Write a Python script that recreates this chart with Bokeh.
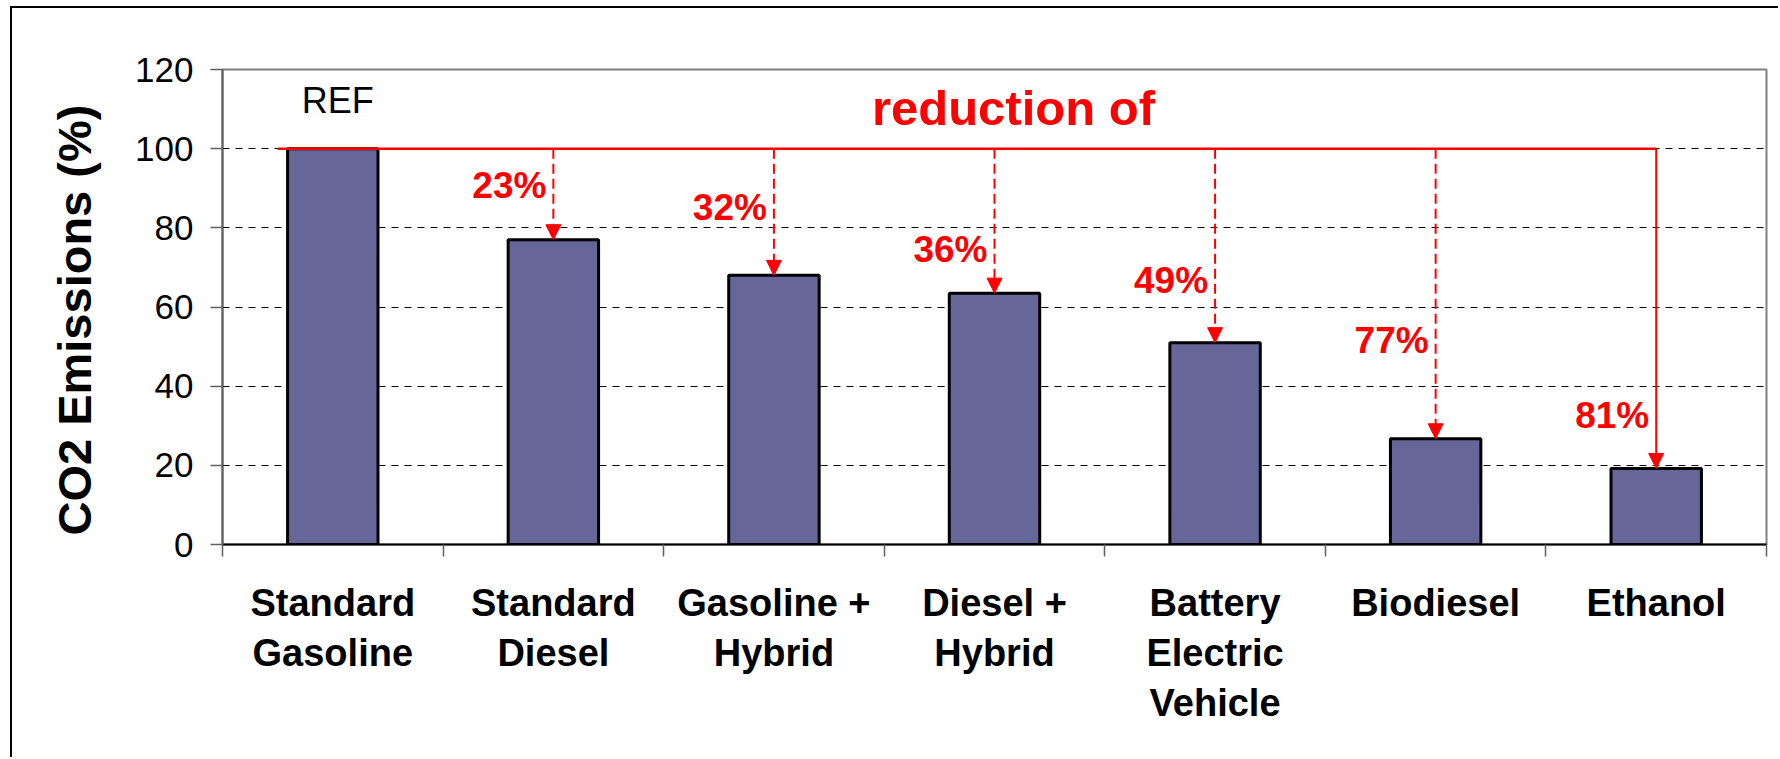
from bokeh.plotting import figure
from bokeh.models import FixedTicker, Arrow, NormalHead, Label
from bokeh.embed import file_html
from bokeh.resources import INLINE
from bokeh.core.properties import value

# ---------------- data ----------------
categories = ["Standard\nGasoline", "Standard\nDiesel", "Gasoline +\nHybrid",
              "Diesel +\nHybrid", "Battery\nElectric\nVehicle", "Biodiesel", "Ethanol"]
emissions = [100, 77, 68, 63.5, 51, 26.7, 19.2]
reductions = ["23%", "32%", "36%", "49%", "77%", "81%"]
reduction_label_y = [90.7, 85.2, 74.5, 66.7, 51.5, 32.6]
y_ticks = [0, 20, 40, 60, 80, 100, 120]

FONT = "Liberation Sans"
RED = "#ff0000"

centers = [i + 0.5 for i in range(len(categories))]

W, H = 1768, 751
p = figure(width=W, height=H, x_range=(0, len(categories)), y_range=(0, 120),
           output_backend="svg", toolbar_location=None,
           min_border_left=210, min_border_right=14, min_border_top=61, min_border_bottom=215)
p.styles = {"border-left": "2px solid black", "border-top": "2px solid black",
            "margin-left": "10px", "margin-top": "6px"}

p.outline_line_color = "#808080"
p.outline_line_width = 2
p.background_fill_color = "white"
p.border_fill_color = "white"

# grid
p.xgrid.visible = False
p.ygrid.ticker = FixedTicker(ticks=y_ticks)
p.ygrid.grid_line_color = "black"
p.ygrid.grid_line_dash = "7 6"
p.ygrid.grid_line_width = 1

# x axis: ticks at category boundaries, labels at centers
xa = p.xaxis[0]
xa.ticker = FixedTicker(ticks=centers, minor_ticks=list(range(len(categories) + 1)))
xa.major_label_overrides = {c: lab for c, lab in zip(centers, categories)}
xa.major_tick_line_color = None
xa.major_tick_out = 0
xa.major_tick_in = 0
xa.minor_tick_out = 12
xa.minor_tick_in = 0
xa.minor_tick_line_color = "#606060"
xa.minor_tick_line_width = 1.5
xa.axis_line_color = "black"
xa.axis_line_width = 2
xa.major_label_text_font = FONT
xa.major_label_text_font_style = "bold"
xa.major_label_text_font_size = "38px"
xa.major_label_text_color = "black"
xa.major_label_standoff = 25
xa.major_label_text_line_height = 1.2

# y axis
ya = p.yaxis[0]
ya.ticker = FixedTicker(ticks=y_ticks)
ya.major_tick_out = 12
ya.major_tick_in = 0
ya.major_tick_line_color = "#606060"
ya.major_tick_line_width = 1.5
ya.minor_tick_line_color = None
ya.axis_line_color = "#606060"
ya.axis_line_width = 2
ya.major_label_text_font = FONT
ya.major_label_text_font_size = "35px"
ya.major_label_text_color = "black"
ya.major_label_standoff = 17
ya.axis_label = "CO2 Emissions (%)\u00a0\u00a0"
ya.axis_label_text_font = FONT
ya.axis_label_text_font_style = "bold"
ya.axis_label_text_font_size = "47px"
ya.axis_label_text_color = "black"
ya.axis_label_standoff = 31

# bars
p.vbar(x=centers, top=emissions, width=0.41, fill_color="#666699",
       line_color="black", line_width=3)

# reference line
p.segment(x0=[centers[0] - 0.25], y0=[emissions[0]], x1=[centers[-1]], y1=[emissions[0]],
          line_color=RED, line_width=2.5)

# arrows
for i in range(1, len(categories)):
    dash = "solid" if i == len(categories) - 1 else "10 5"
    p.add_layout(Arrow(x_start=centers[i], y_start=emissions[0], x_end=centers[i], y_end=emissions[i],
                       line_color=RED, line_width=2, line_dash=dash,
                       end=NormalHead(size=15, fill_color=RED, line_color=RED, line_width=1)))

# reduction labels
p.text(x=centers[1:], y=reduction_label_y, text=reductions, x_offset=-7,
       text_align="right", text_baseline="middle",
       text_font=value(FONT), text_font_style="bold", text_font_size="37px", text_color=RED)

p.add_layout(Label(x=centers[0], y=112.2, text="REF", x_offset=5, text_align="center",
                   text_baseline="middle", text_font=FONT, text_font_size="36px",
                   text_color="black"))

p.add_layout(Label(x=3.586, y=110.2, text="reduction of", text_align="center",
                   text_baseline="middle", text_font=FONT, text_font_style="bold",
                   text_font_size="49px", text_color=RED))

open("out.html", "w").write(file_html(p, INLINE))
